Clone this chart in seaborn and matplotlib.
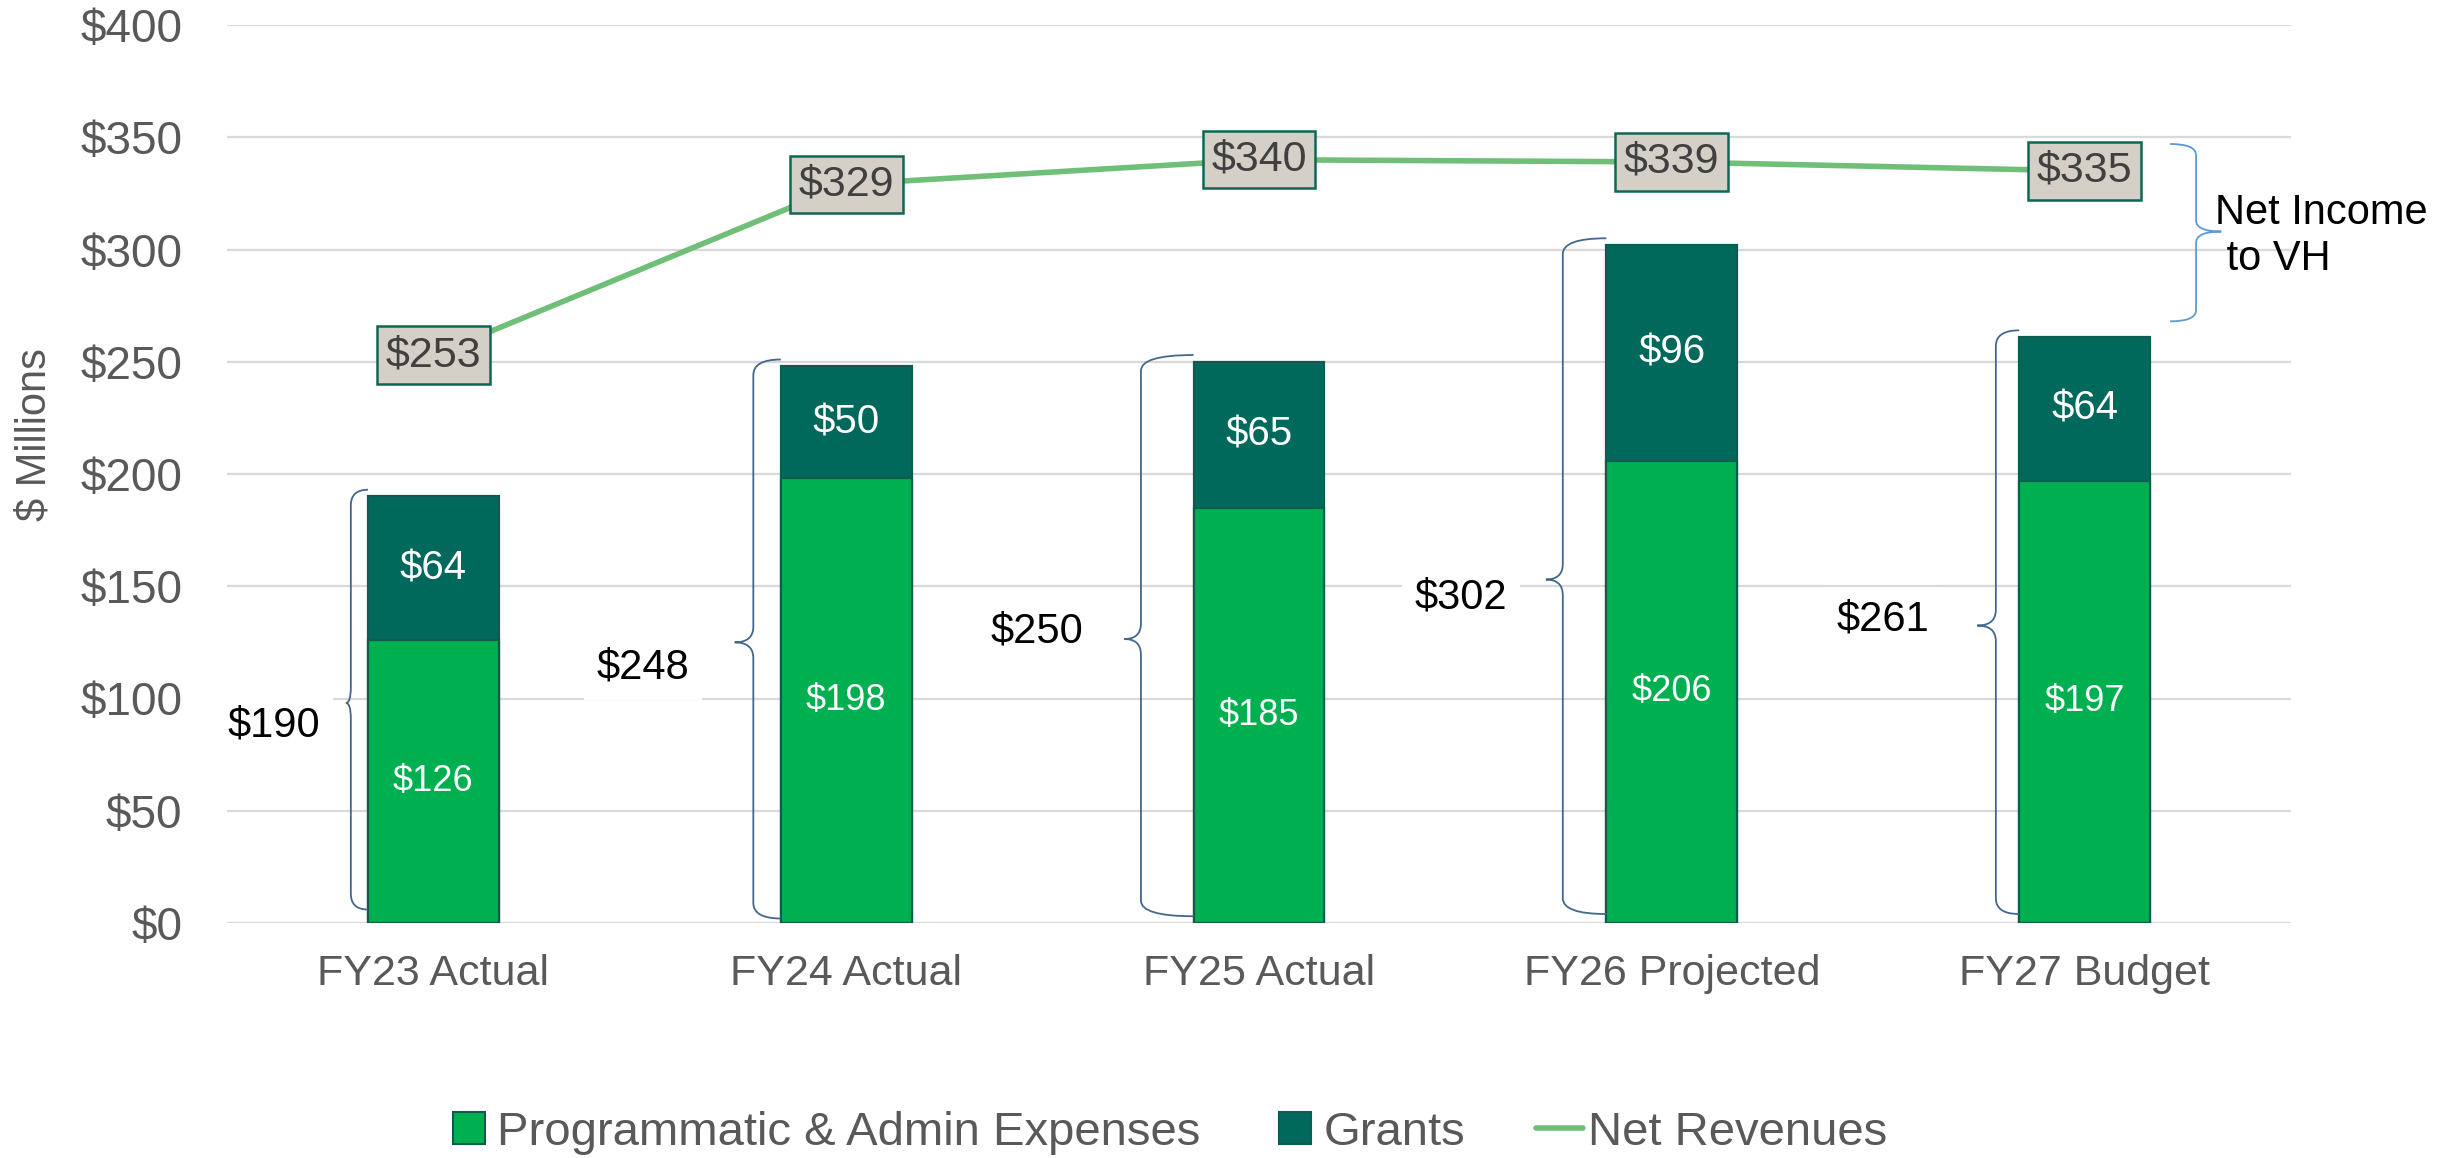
import numpy as np
import pandas as pd
import matplotlib
matplotlib.use("Agg")
import matplotlib.pyplot as plt
from matplotlib.path import Path
from matplotlib.patches import PathPatch
from matplotlib.lines import Line2D
import seaborn as sns

# ---------------- data ----------------
categories = ["FY23 Actual", "FY24 Actual", "FY25 Actual", "FY26 Projected", "FY27 Budget"]
programmatic = [126, 198, 185, 206, 197]
grants = [64, 50, 65, 96, 64]
net_revenues = [253, 329, 340, 339, 335]
totals = [190, 248, 250, 302, 261]
yticks = [0, 50, 100, 150, 200, 250, 300, 350, 400]

# ---------------- style ----------------
sns.set_theme(style="white")
plt.rcParams["font.family"] = ["Liberation Sans", "DejaVu Sans"]

GREEN = "#00B050"
TEAL = "#00695C"
EDGE = "#0D5C4F"
LINE = "#70BF78"
GRID = "#D9D9D9"
TICK = "#595959"
BRACE = "#44678F"
BRACE_R = "#5B9BD5"

fig = plt.figure(figsize=(24.6, 11.58), dpi=100)
ax = fig.add_axes([227 / 2460, 1 - 923 / 1158, (2291 - 227) / 2460, (923 - 25) / 1158])

df = pd.DataFrame({"cat": categories, "prog": programmatic, "grants": grants,
                   "total": [p + g for p, g in zip(programmatic, grants)],
                   "net": net_revenues})
BW = 0.317
sns.barplot(data=df, x="cat", y="total", color=TEAL, width=BW, saturation=1,
            edgecolor=EDGE, linewidth=1.6, ax=ax, zorder=2)
sns.barplot(data=df, x="cat", y="prog", color=GREEN, width=BW, saturation=1,
            edgecolor=EDGE, linewidth=1.6, ax=ax, zorder=2)

xpos = np.arange(len(categories))
sns.lineplot(x=xpos, y=df["net"].values, color=LINE, linewidth=4.0, ax=ax,
             sort=False, zorder=3)

# segment labels
for i in range(len(categories)):
    p, g = programmatic[i], grants[i]
    ax.text(i, p / 2, f"${p}", ha="center", va="center", color="white",
            fontsize=26, zorder=4)
    ax.text(i, p + g / 2, f"${g}", ha="center", va="center", color="white",
            fontsize=29, zorder=4)
    ax.text(i, net_revenues[i], f"${net_revenues[i]}", ha="center", va="center",
            color="#404040", fontsize=31, zorder=5,
            bbox=dict(boxstyle="square,pad=0.2", fc="#D5D0C7", ec="#0E6655", lw=1.8))


def brace(ax, xv, xend, y0, y1, ytip, depth, r, color, lw):
    verts = [(xend, y1), (xv, y1), (xv, y1 - r),
             (xv, ytip + r), (xv, ytip), (xv - depth, ytip),
             (xv, ytip), (xv, ytip - r),
             (xv, y0 + r), (xv, y0), (xend, y0)]
    codes = [Path.MOVETO, Path.CURVE3, Path.CURVE3,
             Path.LINETO, Path.CURVE3, Path.CURVE3,
             Path.CURVE3, Path.CURVE3,
             Path.LINETO, Path.CURVE3, Path.CURVE3]
    ax.add_patch(PathPatch(Path(verts, codes), fill=False, ec=color, lw=lw,
                           zorder=3, clip_on=False))


# total braces (offsets relative to category centre)
brace_xv = [-0.200, -0.225, -0.286, -0.264, -0.215]
brace_depth = [0.012, 0.045, 0.040, 0.041, 0.045]
brace_bottom = [6, 2, 3, 4, 4]
label_dx = [-0.386, -0.492, -0.538, -0.511, -0.488]
label_y = [88, 114, 130, 145, 135]
for i, t in enumerate(totals):
    brace(ax, i + brace_xv[i], i - BW / 2, brace_bottom[i], t + 3,
          (t + brace_bottom[i]) / 2, brace_depth[i], 7, BRACE, 1.3)
    ax.text(i + label_dx[i], label_y[i], f"${t}", ha="center", va="center",
            color="black", fontsize=30, zorder=4,
            bbox=dict(boxstyle="square,pad=0.3", fc="white", ec="none"))

# Net income brace
brace(ax, 4.270, 4.207, 268, 347, 308, -0.061, 5, BRACE_R, 1.3)
ax.text(4.316, 306, "Net Income\n to VH", ha="left", va="center", color="black",
        fontsize=30, linespacing=1.2, zorder=4)

# axes styling
ax.set_xlim(-0.5, 4.5)
ax.set_ylim(0, 400)
ax.set_yticks(yticks)
ax.set_yticklabels([f"${v}" for v in yticks])
ax.yaxis.grid(True, color=GRID, linewidth=1.6)
ax.xaxis.grid(False)
ax.set_axisbelow(True)
for s in ax.spines.values():
    s.set_visible(False)
ax.tick_params(axis="y", length=0, pad=32, labelsize=33, labelcolor=TICK)
ax.tick_params(axis="x", length=0, pad=22, labelsize=31, labelcolor=TICK)
ax.set_xlabel("")
ax.set_ylabel("")
fig.text(34 / 2460, 1 - 435 / 1158, "$ Millions", rotation=90, ha="center",
         va="center", fontsize=30, color=TICK)

handles = [
    Line2D([], [], marker="s", linestyle="none", markersize=23, mfc=GREEN, mec=EDGE, mew=1.5),
    Line2D([], [], marker="s", linestyle="none", markersize=23, mfc=TEAL, mec=EDGE, mew=1.5),
    Line2D([], [], color=LINE, linewidth=4.0),
]
fig.legend(handles, ["Programmatic & Admin Expenses", "Grants", "Net Revenues"],
           loc="center", bbox_to_anchor=(0.474, 0.022), ncol=3, frameon=False,
           fontsize=34, labelcolor=TICK, handlelength=1.0, handletextpad=0.1,
           columnspacing=1.5, borderaxespad=0)

fig.savefig("out.png", dpi=100)
